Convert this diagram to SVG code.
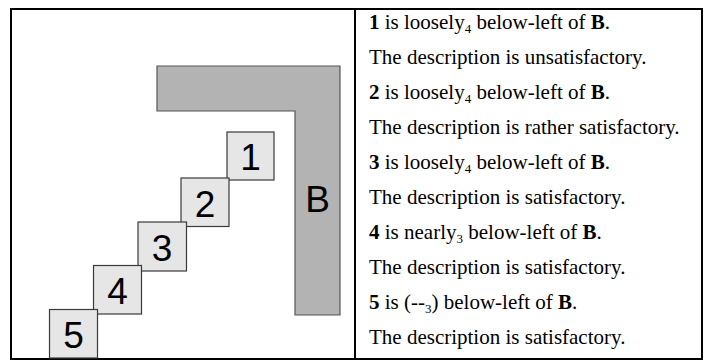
<svg xmlns="http://www.w3.org/2000/svg" width="711" height="361" viewBox="0 0 711 361">
<style>
.frame{fill:none;stroke:#000;stroke-width:2}
.box{fill:#e6e6e6;stroke:#3a3a3a;stroke-width:1.2}
.land{fill:#b3b3b3;stroke:#555;stroke-width:1.2}
.num{font-family:"Liberation Sans",Arial,sans-serif;font-size:37px;fill:#000;text-anchor:middle}
.desc{font-family:"Liberation Serif","Times New Roman",serif;font-size:21px;fill:#000}
.b{font-weight:bold}
.sub{font-size:13px}
</style>
<rect width="711" height="361" fill="#fff"/>
<rect class="frame" x="11" y="9" width="691" height="350"/>
<line x1="355" y1="9" x2="355" y2="359" stroke="#000" stroke-width="2"/>
<g id="B">
<polygon class="land" points="157,66 340,66 340,315 295,315 295,111 157,111"/>
<text class="num" x="317.5" y="212">B</text>
</g>
<g id="n1">
<rect class="box" x="227" y="132" width="47" height="48"/>
<text class="num" x="250.5" y="170">1</text>
</g>
<g id="n2">
<rect class="box" x="181" y="178" width="48" height="48.5"/>
<text class="num" x="205" y="216.5">2</text>
</g>
<g id="n3">
<rect class="box" x="138" y="222" width="48.5" height="49"/>
<text class="num" x="162" y="260.5">3</text>
</g>
<g id="n4">
<rect class="box" x="93.5" y="265.5" width="48" height="48.5"/>
<text class="num" x="117.5" y="304">4</text>
</g>
<g id="n5">
<rect class="box" x="49.5" y="309.5" width="48" height="48.5"/>
<text class="num" x="73.5" y="348">5</text>
</g>
<g id="connectors"></g>
<g id="descriptions">
<text class="desc" x="369" y="29"><tspan class="b">1</tspan> is loosely<tspan class="sub" dy="4">4</tspan><tspan dy="-4"> below-left of </tspan><tspan class="b">B</tspan>.</text>
<text class="desc" x="369" y="64">The description is unsatisfactory.</text>
<text class="desc" x="369" y="99"><tspan class="b">2</tspan> is loosely<tspan class="sub" dy="4">4</tspan><tspan dy="-4"> below-left of </tspan><tspan class="b">B</tspan>.</text>
<text class="desc" x="369" y="134">The description is rather satisfactory.</text>
<text class="desc" x="369" y="169"><tspan class="b">3</tspan> is loosely<tspan class="sub" dy="4">4</tspan><tspan dy="-4"> below-left of </tspan><tspan class="b">B</tspan>.</text>
<text class="desc" x="369" y="204">The description is satisfactory.</text>
<text class="desc" x="369" y="239"><tspan class="b">4</tspan> is nearly<tspan class="sub" dy="4">3</tspan><tspan dy="-4"> below-left of </tspan><tspan class="b">B</tspan>.</text>
<text class="desc" x="369" y="274">The description is satisfactory.</text>
<text class="desc" x="369" y="309"><tspan class="b">5</tspan> is (--<tspan class="sub" dy="4">3</tspan><tspan dy="-4">) below-left of </tspan><tspan class="b">B</tspan>.</text>
<text class="desc" x="369" y="344">The description is satisfactory.</text>
</g>
</svg>
